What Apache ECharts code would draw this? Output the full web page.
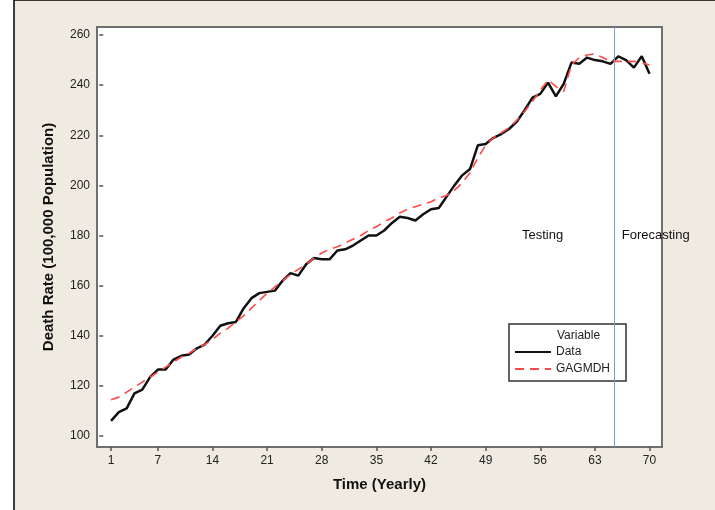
<!DOCTYPE html>
<html>
<head>
<meta charset="utf-8">
<script src="https://cdn.jsdelivr.net/npm/echarts@6/dist/echarts.min.js"></script>
<style>
html,body{margin:0;padding:0;background:#fff;}
#chart{width:715px;height:510px;}
</style>
</head>
<body>
<div id="chart"></div>
<script>
const years = [1,2,3,4,5,6,7,8,9,10,11,12,13,14,15,16,17,18,19,20,21,22,23,24,25,26,27,28,29,30,31,32,33,34,35,36,37,38,39,40,41,42,43,44,45,46,47,48,49,50,51,52,53,54,55,56,57,58,59,60,61,62,63,64,65,66,67,68,69,70];
const dataValues = [106,109.5,111,117,118.5,123.5,126.5,126.5,130.5,132,132.5,135,136.5,140,144,145,145.5,151,155,157,157.5,158,162,165,164,168.5,171,170.5,170.5,174,174.5,176,178,180,180,182,185,187.5,187,186,188.5,190.5,191,195.5,200,204,206.5,216,216.5,219,220.5,222.5,225.5,230,235,236.5,241,235.5,240.5,249,248.5,251,250,249.5,248.5,251.5,250,247,251.5,244.5];
const gagmdhValues = [114.5,115.5,117.5,119.5,121.5,123.5,125.5,127.5,129.5,131.5,133,135,136.5,138.5,141,143,145.5,148,151,154,157,159.5,162,164.5,166.5,168.5,171,173,174.5,175.5,177,178.5,180,182,183.5,185.5,187,189,190.5,191.5,192.5,193.5,195,196,198,201,205,211,216,219,221,223,226,229.5,233.5,238,242,239.5,237.5,248,251,252,252.5,251,249.5,249.5,249.5,249.5,249,248];
const xTickLabels = [1,7,14,21,28,35,42,49,56,63,70];
const yTickLabels = [100,120,140,160,180,200,220,240,260];
const splitYear = 65.5;
const notes = [{name:'Testing', coord:[56.3,180]}, {name:'Forecasting', coord:[70.8,180]}];

const chart = echarts.init(document.getElementById('chart'));
const font = 'Liberation Sans, Arial, sans-serif';
chart.setOption({
  animation:false,
  textStyle:{fontFamily:font},
  graphic:[
    {type:'rect', z:-100, shape:{x:14,y:0,width:720,height:530}, style:{fill:'#EFEBE0', stroke:'#000', lineWidth:1.5}},
    {type:'text', left:557, top:330, z:100, style:{text:'Variable', fontSize:12, fontFamily:font, fill:'#222'}}
  ],
  grid:{left:97, right:53, top:27, bottom:63, show:true, backgroundColor:'#fff', borderColor:'#6f6f6f', borderWidth:2},
  legend:{
    data:['Data','GAGMDH'], orient:'vertical', left:509, top:324,
    padding:[22,16,6,5], itemWidth:36, itemHeight:10, itemGap:5,
    borderColor:'#333', borderWidth:1.5, borderRadius:0,
    itemStyle:{opacity:0},
    textStyle:{fontSize:12, color:'#222', fontFamily:font}
  },
  xAxis:{
    type:'value', min:-0.8, max:71.6,
    name:'Time (Yearly)', nameLocation:'middle', nameGap:30,
    nameTextStyle:{fontSize:15, fontWeight:'bold', color:'#111', fontFamily:font},
    axisLine:{show:false},
    splitLine:{show:false},
    axisTick:{show:true, length:4, customValues:xTickLabels, lineStyle:{color:'#555', width:1.5}},
    axisLabel:{customValues:xTickLabels, margin:8, fontSize:12, color:'#222'}
  },
  yAxis:{
    type:'value', min:95.6, max:263.2,
    name:'Death Rate (100,000 Population)', nameLocation:'middle', nameGap:41,
    nameTextStyle:{fontSize:15, fontWeight:'bold', color:'#111', fontFamily:font},
    axisLine:{show:false},
    splitLine:{show:false},
    axisTick:{show:true, length:4, customValues:yTickLabels, lineStyle:{color:'#555', width:1.5}},
    axisLabel:{customValues:yTickLabels, margin:7, fontSize:12, color:'#222'}
  },
  series:[
    {
      name:'Data', type:'line', symbol:'none', z:3,
      data: years.map((t,i)=>[t,dataValues[i]]),
      lineStyle:{color:'#111', width:2.5},
      itemStyle:{color:'#111'},
      markLine:{silent:true, symbol:'none', label:{show:false},
        lineStyle:{color:'#7b9bcf', width:1, type:'solid'},
        data:[{xAxis:splitYear}]},
      markPoint:{silent:true, symbol:'circle', symbolSize:0,
        label:{show:true, position:'inside', formatter:p=>p.name, fontSize:13, color:'#111', fontFamily:font},
        data:notes}
    },
    {
      name:'GAGMDH', type:'line', symbol:'none', z:4,
      data: years.map((t,i)=>[t,gagmdhValues[i]]),
      lineStyle:{color:'#ff4a4a', width:1.6, type:[9,6]},
      itemStyle:{color:'#ff4a4a'}
    }
  ]
});
</script>
</body>
</html>
